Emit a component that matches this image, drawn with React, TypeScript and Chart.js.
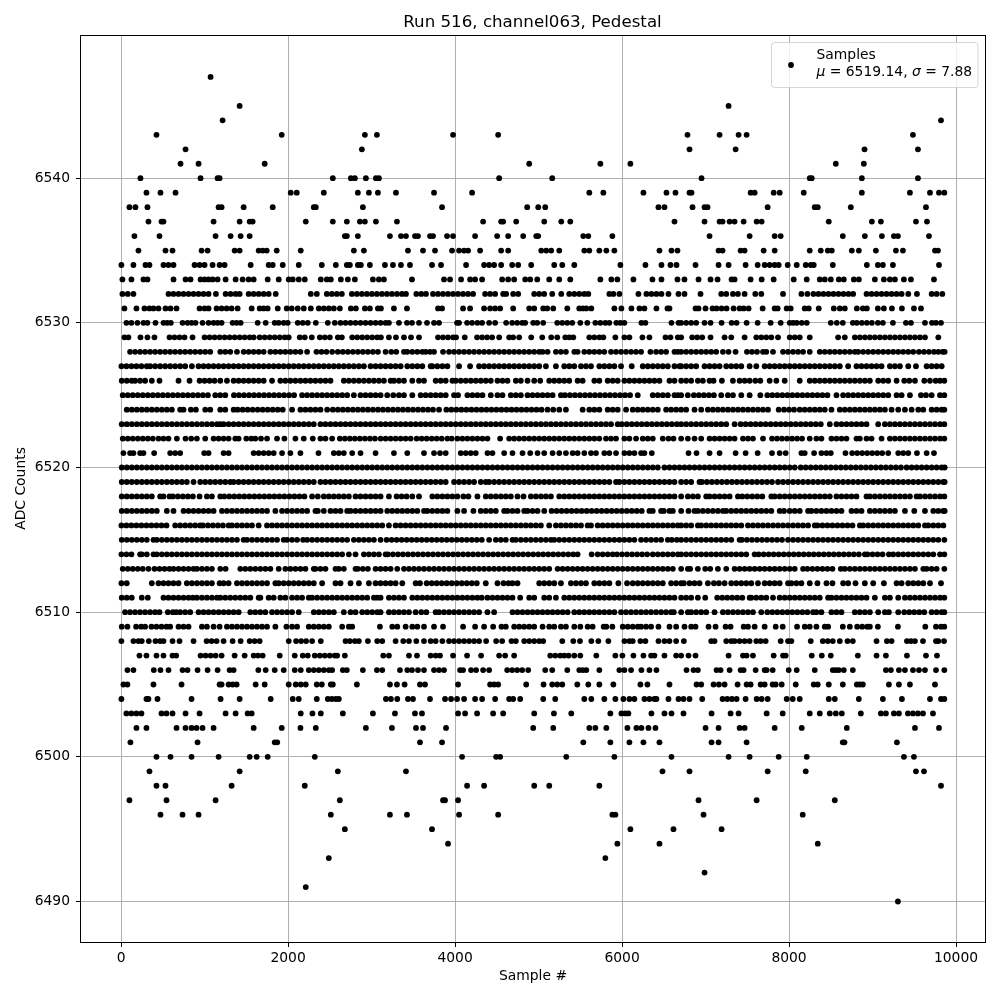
import React, { useEffect, useRef } from "react";
import { Chart, registerables } from "chart.js";

Chart.register(...registerables);

const xTicks = [0, 2000, 4000, 6000, 8000, 10000];
const yTicks = [6490, 6500, 6510, 6520, 6530, 6540];

// Sample numbers, one list per ADC level.
const s6547 = [1072];
const s6545 = [1420, 7276];
const s6544 = [1216, 9820];
const s6543 = [424, 1924, 2920, 3064, 3976, 4516, 6784, 7168, 7396, 7492, 9484];
const s6542 = [772, 2884, 6808, 7360, 8904, 9544];
const s6541 = [712, 928, 1720, 4888, 5740, 6100, 8560, 8896];
const s6540 = [232, 952, 1156, 1180, 2536, 2752, 2800, 2932, 3052, 3088, 4528, 5164, 6952, 8248, 8272, 8872, 9544];
const s6539 = [304, 472, 652, 2032, 2104, 2428, 2836, 2968, 3076, 3292, 3748, 4204, 5608, 5776, 6256, 6532, 6640, 6808, 6832, 7540, 7588, 7816, 7888, 8176, 8872, 9448, 9688, 9796, 9860];
const s6538 = [100, 172, 316, 1168, 1204, 1468, 1816, 2308, 2332, 2896, 3844, 4864, 4996, 5080, 6436, 6508, 6844, 6988, 7024, 7744, 8308, 8344, 8740, 9640];
const s6537 = [328, 484, 508, 1108, 1420, 1540, 1576, 2212, 2536, 2704, 2860, 2920, 3052, 3304, 4336, 4552, 4576, 4732, 5068, 5272, 5380, 6628, 6988, 7168, 7204, 7288, 7348, 7456, 7612, 7672, 8476, 8992, 9100, 9520, 9652];
const s6536 = [160, 460, 1132, 1312, 1432, 1540, 2680, 2704, 2836, 3220, 3352, 3412, 3520, 3556, 3700, 3736, 3904, 3976, 4240, 4504, 4636, 4816, 4972, 4996, 5536, 5596, 5884, 7048, 7528, 7828, 7900, 8644, 8908, 9112, 9256, 9304, 9676];
const s6535 = [208, 532, 616, 964, 1036, 1360, 1420, 1648, 1696, 1744, 1864, 2152, 2788, 2908, 3436, 3616, 3760, 3964, 4048, 4108, 4156, 4300, 4552, 4636, 5032, 5092, 5152, 5248, 5548, 5608, 5728, 5812, 5908, 6448, 6592, 6664, 7156, 7204, 7420, 7468, 7696, 7828, 8248, 8380, 8464, 8512, 8752, 8836, 9040, 9280, 9364, 9748, 9784];
const s6534 = [4, 148, 292, 340, 508, 568, 628, 880, 940, 1000, 1096, 1180, 1240, 1552, 1768, 1816, 1936, 2128, 2404, 2572, 2704, 2740, 2836, 2872, 2980, 3160, 3256, 3352, 3460, 3724, 3832, 4132, 4348, 4408, 4468, 4552, 4684, 4756, 4912, 5188, 5284, 5428, 5980, 6280, 6472, 6580, 6652, 6880, 7156, 7276, 7480, 7624, 7708, 7768, 7828, 7876, 7984, 8092, 8200, 8260, 8296, 8524, 8932, 9064, 9124, 9244, 9796];
const s6533 = [16, 124, 268, 316, 628, 772, 832, 952, 1000, 1048, 1096, 1156, 1252, 1372, 1456, 1528, 1588, 1756, 1888, 2008, 2056, 2128, 2200, 2392, 2464, 2512, 2632, 2716, 2800, 3016, 3088, 3148, 3484, 3868, 3940, 4072, 4180, 4240, 4324, 4564, 4636, 4708, 4840, 4900, 4984, 5128, 5248, 5380, 5740, 5872, 5944, 6136, 6364, 6472, 6664, 6748, 6916, 7060, 7144, 7312, 7348, 7540, 7672, 7816, 8056, 8212, 8368, 8428, 8500, 8596, 8656, 8776, 8836, 9028, 9136, 9208, 9268, 9376, 9460, 9736];
const s6532 = [16, 80, 148, 568, 628, 688, 748, 808, 868, 928, 988, 1048, 1136, 1252, 1312, 1372, 1420, 1528, 1588, 1648, 1708, 1768, 1852, 2272, 2344, 2464, 2524, 2584, 2644, 2764, 2824, 2884, 2944, 3004, 3064, 3124, 3184, 3244, 3304, 3364, 3412, 3536, 3596, 3652, 3736, 3796, 3856, 3916, 3976, 4036, 4096, 4156, 4216, 4360, 4420, 4480, 4576, 4612, 4696, 4756, 4948, 5008, 5068, 5164, 5272, 5368, 5428, 5488, 5548, 5596, 5848, 5896, 5968, 6196, 6292, 6352, 6412, 6472, 6556, 6676, 6748, 6940, 7188, 7248, 7328, 7388, 7468, 7596, 7668, 7928, 8148, 8220, 8292, 8352, 8412, 8472, 8532, 8592, 8652, 8712, 8768, 8928, 8988, 9048, 9108, 9168, 9228, 9288, 9348, 9428, 9532, 9708, 9768, 9836];
const s6531 = [40, 184, 280, 340, 388, 448, 532, 592, 664, 940, 1000, 1048, 1144, 1204, 1264, 1324, 1396, 1564, 1660, 1708, 1756, 1876, 1984, 2044, 2116, 2188, 2272, 2368, 2428, 2488, 2548, 2620, 2752, 2812, 2920, 2980, 3076, 3112, 3268, 3424, 3796, 3844, 4096, 4180, 4348, 4420, 4480, 4540, 4696, 4888, 4948, 5056, 5104, 5176, 5344, 5488, 5530, 5572, 5632, 5908, 5992, 6112, 6208, 6268, 6412, 6544, 6568, 6880, 6916, 7000, 7084, 7132, 7192, 7252, 7336, 7408, 7456, 7516, 7684, 7828, 7864, 7972, 8020, 8188, 8236, 8356, 8536, 8608, 8668, 8812, 8884, 8932, 9064, 9136, 9232, 9352, 9496, 9580];
const s6530 = [64, 124, 196, 268, 316, 412, 508, 552, 596, 736, 796, 844, 892, 976, 1048, 1108, 1156, 1204, 1336, 1384, 1432, 1636, 1732, 1840, 1888, 1948, 1996, 2116, 2176, 2236, 2332, 2476, 2560, 2628, 2688, 2748, 2808, 2868, 2928, 2988, 3048, 3108, 3168, 3208, 3328, 3424, 3484, 3568, 3664, 3748, 3808, 4024, 4048, 4144, 4204, 4268, 4324, 4408, 4480, 4612, 4684, 4744, 4804, 4840, 4936, 4984, 5056, 5224, 5284, 5344, 5404, 5500, 5584, 5680, 5740, 5800, 5848, 5932, 5980, 6028, 6232, 6280, 6592, 6676, 6708, 6768, 6828, 6888, 6988, 7060, 7192, 7312, 7372, 7492, 7624, 7780, 7900, 8008, 8050, 8092, 8152, 8212, 8500, 8572, 8644, 8764, 8812, 8872, 8932, 8992, 9064, 9124, 9244, 9400, 9460, 9628, 9712, 9760, 9820];
const s6529 = [40, 88, 232, 316, 400, 580, 640, 700, 760, 856, 1000, 1060, 1120, 1180, 1240, 1300, 1360, 1420, 1480, 1540, 1588, 1660, 1720, 1780, 1840, 1900, 1960, 2008, 2140, 2200, 2284, 2380, 2440, 2500, 2596, 2644, 2768, 2828, 2888, 2948, 3008, 3068, 3112, 3208, 3292, 3388, 3472, 3568, 3796, 3856, 3916, 3976, 4012, 4116, 4264, 4324, 4384, 4444, 4528, 4648, 4696, 4768, 4912, 5044, 5152, 5224, 5320, 5368, 5416, 5608, 5668, 5728, 5776, 5920, 6028, 6088, 6244, 6328, 6520, 6580, 6668, 6708, 6840, 6900, 6960, 7060, 7228, 7308, 7468, 7608, 7668, 7728, 7788, 7868, 8008, 8068, 8128, 8248, 8588, 8668, 8788, 8848, 8908, 8968, 9028, 9088, 9148, 9208, 9268, 9328, 9388, 9448, 9508, 9568, 9628, 9788];
const s6528 = [108, 168, 228, 288, 348, 408, 468, 528, 588, 648, 708, 768, 828, 888, 948, 1008, 1068, 1188, 1248, 1308, 1388, 1468, 1528, 1588, 1648, 1708, 1788, 1848, 1908, 1968, 2028, 2088, 2148, 2228, 2340, 2400, 2460, 2528, 2596, 2656, 2716, 2776, 2836, 2896, 2956, 3016, 3076, 3168, 3236, 3296, 3388, 3428, 3488, 3548, 3608, 3648, 3700, 3748, 3856, 3928, 3988, 4048, 4108, 4168, 4228, 4288, 4348, 4408, 4468, 4528, 4588, 4648, 4708, 4768, 4828, 4888, 4948, 5008, 5048, 5108, 5208, 5268, 5328, 5428, 5468, 5548, 5608, 5668, 5728, 5788, 5868, 5928, 5988, 6048, 6108, 6168, 6228, 6340, 6408, 6468, 6528, 6628, 6668, 6708, 6768, 6828, 6888, 6948, 7008, 7068, 7128, 7208, 7276, 7360, 7496, 7556, 7616, 7688, 7728, 7808, 7928, 7988, 8048, 8108, 8168, 8248, 8368, 8428, 8488, 8548, 8608, 8668, 8728, 8788, 8828, 8888, 8948, 9008, 9068, 9128, 9188, 9248, 9308, 9368, 9428, 9488, 9556, 9616, 9676, 9736, 9788, 9840, 9864];
const s6527 = [4, 64, 124, 184, 244, 308, 348, 408, 468, 528, 588, 648, 708, 768, 848, 928, 988, 1048, 1108, 1168, 1228, 1288, 1348, 1408, 1468, 1528, 1588, 1648, 1708, 1768, 1828, 1888, 1948, 2008, 2068, 2128, 2188, 2248, 2308, 2368, 2428, 2488, 2548, 2608, 2668, 2728, 2788, 2848, 2908, 2988, 3048, 3108, 3168, 3228, 3288, 3348, 3428, 3488, 3548, 3608, 3708, 3728, 3788, 3848, 3908, 4048, 4180, 4288, 4348, 4408, 4468, 4528, 4588, 4648, 4708, 4768, 4828, 4888, 4948, 5008, 5088, 5208, 5308, 5368, 5428, 5508, 5568, 5628, 5728, 5788, 5848, 5908, 5988, 6116, 6248, 6308, 6368, 6428, 6488, 6548, 6628, 6688, 6708, 6768, 6828, 6888, 6988, 7048, 7108, 7168, 7248, 7308, 7368, 7428, 7528, 7608, 7708, 7768, 7828, 7888, 7948, 8008, 8068, 8128, 8188, 8248, 8308, 8368, 8428, 8488, 8548, 8608, 8708, 8808, 8868, 8928, 8988, 9048, 9108, 9208, 9268, 9328, 9428, 9520, 9648, 9708, 9768, 9828];
const s6526 = [8, 68, 128, 168, 228, 288, 368, 460, 688, 820, 940, 1000, 1060, 1120, 1188, 1268, 1348, 1408, 1468, 1528, 1588, 1648, 1708, 1808, 1908, 1968, 2028, 2088, 2148, 2208, 2268, 2328, 2388, 2448, 2508, 2668, 2728, 2788, 2848, 2908, 2968, 3028, 3088, 3148, 3228, 3268, 3328, 3388, 3488, 3568, 3628, 3768, 3828, 3888, 3968, 4008, 4068, 4128, 4188, 4248, 4308, 4368, 4428, 4508, 4568, 4628, 4728, 4788, 4868, 4948, 5020, 5128, 5188, 5248, 5308, 5368, 5468, 5528, 5668, 5728, 5828, 5888, 5948, 6028, 6088, 6148, 6208, 6268, 6328, 6388, 6448, 6568, 6628, 6708, 6768, 6828, 6908, 6968, 7048, 7096, 7196, 7328, 7408, 7468, 7528, 7596, 7656, 7768, 7848, 7948, 8128, 8248, 8308, 8368, 8428, 8488, 8548, 8608, 8668, 8728, 8788, 8848, 8908, 8968, 9068, 9128, 9188, 9288, 9380, 9440, 9508, 9620, 9688, 9756, 9808, 9860];
const s6525 = [20, 80, 140, 200, 260, 320, 380, 440, 500, 560, 620, 680, 740, 800, 860, 920, 980, 1040, 1128, 1188, 1248, 1352, 1412, 1472, 1532, 1592, 1652, 1712, 1772, 1832, 1892, 1952, 2012, 2072, 2168, 2228, 2288, 2348, 2408, 2468, 2528, 2588, 2648, 2708, 2788, 2868, 2928, 2988, 3048, 3108, 3188, 3260, 3328, 3388, 3488, 3588, 3648, 3708, 3768, 3828, 3888, 3988, 4036, 4148, 4208, 4268, 4328, 4428, 4508, 4568, 4668, 4728, 4788, 4868, 4928, 4988, 5048, 5108, 5168, 5268, 5316, 5376, 5436, 5496, 5556, 5616, 5676, 5736, 5796, 5856, 5916, 5976, 6036, 6096, 6188, 6368, 6428, 6488, 6548, 6628, 6668, 6708, 6788, 6860, 6920, 6980, 7040, 7100, 7188, 7268, 7328, 7428, 7528, 7656, 7740, 7800, 7860, 7920, 7980, 8040, 8100, 8160, 8220, 8280, 8340, 8400, 8460, 8568, 8648, 8708, 8768, 8828, 8888, 8948, 9008, 9068, 9128, 9188, 9288, 9348, 9448, 9580, 9640, 9708, 9808, 9860];
const s6524 = [68, 128, 188, 248, 308, 368, 428, 488, 548, 608, 708, 748, 836, 896, 1008, 1068, 1188, 1248, 1348, 1396, 1456, 1516, 1576, 1636, 1696, 1756, 1816, 1876, 1936, 2048, 2148, 2208, 2268, 2328, 2388, 2468, 2536, 2596, 2656, 2716, 2776, 2836, 2896, 2956, 3016, 3076, 3136, 3196, 3256, 3316, 3376, 3436, 3496, 3556, 3616, 3676, 3736, 3808, 3896, 3956, 4016, 4076, 4136, 4196, 4256, 4316, 4376, 4436, 4496, 4556, 4616, 4676, 4736, 4796, 4856, 4916, 4976, 5036, 5108, 5176, 5248, 5328, 5528, 5608, 5668, 5728, 5828, 5888, 5948, 6048, 6128, 6188, 6248, 6308, 6368, 6428, 6528, 6588, 6648, 6708, 6768, 6868, 6948, 7028, 7088, 7148, 7208, 7268, 7328, 7388, 7448, 7508, 7568, 7628, 7688, 7748, 7876, 7940, 8000, 8060, 8128, 8188, 8248, 8308, 8368, 8428, 8508, 8608, 8668, 8728, 8788, 8848, 8908, 8968, 9028, 9088, 9148, 9228, 9308, 9388, 9468, 9548, 9608, 9708, 9768, 9828, 9860];
const s6523 = [8, 68, 128, 188, 248, 308, 368, 428, 488, 548, 608, 668, 728, 788, 848, 908, 968, 1028, 1088, 1148, 1188, 1228, 1288, 1348, 1408, 1468, 1528, 1588, 1648, 1708, 1768, 1828, 1888, 1948, 2008, 2068, 2128, 2188, 2248, 2308, 2388, 2448, 2508, 2568, 2628, 2688, 2748, 2808, 2868, 2928, 2988, 3048, 3108, 3168, 3228, 3288, 3348, 3408, 3468, 3528, 3588, 3648, 3708, 3768, 3828, 3888, 3948, 4008, 4068, 4128, 4188, 4248, 4308, 4368, 4428, 4488, 4548, 4608, 4668, 4728, 4788, 4848, 4908, 4968, 5028, 5088, 5148, 5208, 5268, 5328, 5388, 5448, 5508, 5568, 5628, 5688, 5748, 5808, 5868, 5948, 5996, 6056, 6116, 6176, 6236, 6296, 6356, 6416, 6476, 6536, 6596, 6656, 6708, 6768, 6828, 6888, 6948, 7008, 7068, 7128, 7188, 7248, 7348, 7420, 7480, 7540, 7600, 7660, 7720, 7780, 7840, 7900, 7960, 8020, 8080, 8140, 8200, 8260, 8320, 8380, 8488, 8568, 8628, 8688, 8748, 8808, 8868, 8928, 9068, 9148, 9208, 9268, 9328, 9388, 9448, 9508, 9568, 9628, 9688, 9748, 9808, 9860];
const s6522 = [20, 80, 140, 200, 260, 320, 380, 448, 508, 568, 668, 772, 840, 908, 1008, 1108, 1168, 1228, 1288, 1368, 1408, 1500, 1560, 1608, 1676, 1748, 1868, 1956, 2088, 2188, 2296, 2388, 2448, 2528, 2620, 2680, 2740, 2800, 2860, 2920, 2980, 3040, 3108, 3168, 3228, 3288, 3348, 3408, 3468, 3540, 3600, 3660, 3720, 3780, 3840, 3908, 3960, 4028, 4088, 4148, 4208, 4268, 4328, 4388, 4540, 4648, 4708, 4768, 4828, 4888, 4948, 5008, 5068, 5128, 5188, 5248, 5308, 5368, 5428, 5488, 5548, 5608, 5668, 5728, 5808, 5868, 5928, 6028, 6088, 6168, 6248, 6308, 6368, 6488, 6556, 6616, 6708, 6788, 6868, 6948, 7048, 7108, 7168, 7228, 7288, 7348, 7448, 7508, 7568, 7688, 7796, 7856, 7916, 7976, 8036, 8096, 8156, 8248, 8328, 8388, 8508, 8568, 8628, 8688, 8808, 8848, 8928, 8988, 9108, 9208, 9268, 9328, 9388, 9448, 9508, 9568, 9628, 9688, 9748, 9808, 9860];
const s6521 = [28, 108, 148, 228, 268, 396, 588, 648, 708, 996, 1048, 1228, 1288, 1588, 1648, 1708, 1768, 1828, 1928, 2028, 2148, 2364, 2548, 2608, 2668, 2768, 2868, 3048, 3268, 3428, 3628, 3748, 3820, 3888, 4068, 4128, 4188, 4248, 4388, 4448, 4588, 4688, 4808, 4900, 4988, 5068, 5168, 5248, 5328, 5408, 5468, 5548, 5628, 5688, 5788, 5848, 5928, 6028, 6088, 6148, 6228, 6268, 6356, 6796, 6892, 7048, 7168, 7360, 7480, 7624, 7796, 7888, 7960, 8148, 8188, 8300, 8388, 8448, 8500, 8676, 8756, 8816, 8876, 8936, 8996, 9056, 9116, 9188, 9308, 9368, 9428, 9532, 9648, 9736];
const s6520 = [8, 68, 128, 188, 248, 308, 368, 428, 488, 548, 608, 668, 728, 788, 848, 908, 968, 1028, 1088, 1148, 1208, 1268, 1328, 1388, 1448, 1508, 1568, 1628, 1688, 1748, 1808, 1868, 1928, 1988, 2048, 2108, 2168, 2228, 2288, 2348, 2408, 2468, 2528, 2588, 2648, 2708, 2768, 2828, 2888, 2948, 3008, 3068, 3128, 3188, 3248, 3308, 3368, 3428, 3488, 3548, 3608, 3668, 3728, 3788, 3848, 3908, 3968, 4028, 4088, 4148, 4208, 4268, 4328, 4388, 4448, 4508, 4568, 4628, 4688, 4748, 4808, 4868, 4928, 4988, 5048, 5108, 5168, 5228, 5288, 5348, 5408, 5468, 5528, 5588, 5648, 5708, 5768, 5828, 5888, 5948, 6008, 6068, 6128, 6188, 6248, 6308, 6368, 6428, 6508, 6568, 6628, 6688, 6748, 6808, 6868, 6928, 6988, 7048, 7108, 7168, 7228, 7288, 7348, 7408, 7468, 7528, 7588, 7648, 7708, 7768, 7828, 7888, 7948, 8008, 8068, 8140, 8200, 8260, 8320, 8380, 8440, 8500, 8560, 8620, 8680, 8740, 8800, 8860, 8920, 8980, 9040, 9100, 9160, 9220, 9280, 9340, 9408, 9468, 9528, 9588, 9648, 9708, 9768, 9828, 9864];
const s6519 = [8, 68, 128, 188, 248, 308, 368, 428, 488, 548, 608, 668, 728, 788, 868, 948, 1008, 1068, 1128, 1188, 1248, 1308, 1348, 1408, 1468, 1528, 1588, 1648, 1708, 1768, 1828, 1888, 1948, 2008, 2068, 2128, 2188, 2248, 2308, 2388, 2448, 2508, 2568, 2628, 2688, 2748, 2808, 2868, 2928, 2988, 3048, 3108, 3168, 3228, 3288, 3348, 3408, 3468, 3528, 3588, 3648, 3708, 3768, 3828, 3888, 3988, 4048, 4108, 4168, 4228, 4308, 4368, 4408, 4468, 4528, 4588, 4648, 4708, 4768, 4828, 4888, 4948, 5008, 5068, 5128, 5188, 5248, 5308, 5368, 5428, 5488, 5548, 5608, 5668, 5728, 5788, 5848, 5928, 5968, 6028, 6088, 6148, 6208, 6268, 6328, 6388, 6448, 6508, 6568, 6628, 6708, 6768, 6828, 6928, 6956, 7016, 7076, 7136, 7196, 7256, 7316, 7376, 7436, 7496, 7556, 7616, 7676, 7736, 7796, 7868, 7928, 7988, 8048, 8108, 8168, 8228, 8288, 8348, 8408, 8468, 8528, 8588, 8648, 8708, 8768, 8828, 8888, 8948, 9008, 9068, 9128, 9188, 9248, 9308, 9368, 9428, 9488, 9548, 9608, 9668, 9728, 9788, 9848, 9864];
const s6518 = [8, 68, 128, 188, 248, 308, 368, 468, 508, 580, 620, 680, 740, 800, 860, 940, 1028, 1088, 1188, 1236, 1296, 1356, 1416, 1476, 1536, 1596, 1656, 1716, 1776, 1836, 1896, 1956, 2016, 2076, 2136, 2196, 2288, 2356, 2428, 2488, 2548, 2608, 2668, 2728, 2808, 2868, 2928, 2988, 3048, 3108, 3208, 3300, 3360, 3420, 3488, 3568, 3728, 3788, 3848, 3908, 3968, 4028, 4100, 4160, 4268, 4368, 4428, 4488, 4548, 4608, 4668, 4748, 4820, 4908, 4968, 5028, 5088, 5148, 5248, 5308, 5368, 5428, 5488, 5548, 5608, 5668, 5728, 5788, 5848, 5908, 5968, 6028, 6088, 6148, 6208, 6268, 6328, 6388, 6448, 6508, 6568, 6628, 6708, 6788, 6848, 6908, 7008, 7048, 7108, 7168, 7228, 7288, 7388, 7440, 7500, 7560, 7620, 7680, 7788, 7828, 7888, 7948, 8008, 8068, 8128, 8188, 8248, 8308, 8368, 8428, 8488, 8568, 8628, 8688, 8748, 8808, 8928, 8968, 9028, 9088, 9148, 9208, 9268, 9328, 9388, 9448, 9528, 9568, 9628, 9688, 9748, 9808, 9860];
const s6517 = [8, 68, 128, 188, 248, 308, 368, 428, 548, 628, 748, 808, 868, 928, 988, 1048, 1108, 1208, 1268, 1328, 1388, 1448, 1508, 1568, 1628, 1688, 1748, 1848, 1928, 1988, 2048, 2108, 2168, 2228, 2328, 2356, 2428, 2508, 2568, 2628, 2708, 2748, 2808, 2868, 2928, 2988, 3048, 3108, 3188, 3248, 3308, 3368, 3428, 3488, 3548, 3628, 3668, 3728, 3788, 3848, 3908, 4028, 4108, 4220, 4308, 4368, 4428, 4488, 4588, 4628, 4688, 4748, 4828, 4868, 4928, 4988, 5068, 5156, 5216, 5276, 5336, 5396, 5456, 5516, 5576, 5636, 5696, 5756, 5816, 5876, 5936, 5996, 6056, 6116, 6176, 6236, 6328, 6368, 6468, 6500, 6568, 6608, 6708, 6796, 6868, 6908, 6968, 7028, 7088, 7148, 7208, 7248, 7308, 7368, 7428, 7488, 7548, 7608, 7668, 7728, 7788, 7888, 7940, 8008, 8068, 8128, 8228, 8268, 8328, 8388, 8448, 8508, 8568, 8628, 8748, 8808, 8868, 8968, 9028, 9088, 9148, 9208, 9268, 9388, 9500, 9628, 9728, 9788, 9848, 9864];
const s6516 = [4, 64, 124, 184, 244, 304, 364, 424, 484, 544, 648, 708, 768, 828, 888, 948, 980, 1040, 1100, 1160, 1220, 1288, 1328, 1388, 1448, 1508, 1568, 1648, 1748, 1808, 1868, 1928, 1988, 2048, 2108, 2168, 2228, 2288, 2348, 2408, 2468, 2528, 2588, 2648, 2708, 2768, 2828, 2888, 2948, 3008, 3068, 3128, 3208, 3288, 3348, 3408, 3468, 3528, 3588, 3648, 3708, 3768, 3828, 3888, 3948, 4008, 4068, 4128, 4188, 4248, 4308, 4368, 4428, 4488, 4548, 4608, 4668, 4728, 4788, 4848, 4908, 4968, 5028, 5128, 5208, 5268, 5328, 5388, 5448, 5508, 5588, 5628, 5708, 5768, 5828, 5888, 5948, 6008, 6068, 6128, 6188, 6248, 6308, 6368, 6428, 6488, 6548, 6608, 6668, 6708, 6768, 6828, 6908, 6948, 7008, 7068, 7128, 7188, 7248, 7308, 7368, 7428, 7508, 7568, 7628, 7688, 7748, 7808, 7868, 7928, 7988, 8048, 8108, 8168, 8228, 8308, 8340, 8400, 8460, 8520, 8580, 8640, 8700, 8760, 8848, 8888, 8948, 9008, 9068, 9128, 9188, 9248, 9308, 9368, 9428, 9488, 9548, 9628, 9668, 9728, 9788, 9848];
const s6515 = [8, 68, 128, 188, 248, 308, 388, 428, 488, 548, 608, 668, 728, 788, 848, 908, 968, 1028, 1088, 1148, 1208, 1268, 1328, 1388, 1468, 1508, 1568, 1628, 1688, 1748, 1808, 1868, 1948, 1988, 2048, 2108, 2180, 2228, 2288, 2348, 2408, 2468, 2528, 2588, 2648, 2708, 2788, 2848, 2908, 2968, 3028, 3108, 3180, 3240, 3300, 3360, 3420, 3480, 3540, 3600, 3660, 3720, 3780, 3840, 3900, 3960, 4020, 4080, 4140, 4200, 4260, 4320, 4408, 4488, 4548, 4608, 4688, 4728, 4788, 4848, 4908, 4968, 5028, 5088, 5148, 5188, 5248, 5308, 5368, 5428, 5488, 5548, 5608, 5668, 5728, 5788, 5848, 5908, 5968, 6028, 6088, 6148, 6228, 6288, 6348, 6408, 6468, 6548, 6596, 6656, 6708, 6768, 6828, 6888, 6948, 7008, 7068, 7128, 7188, 7248, 7308, 7408, 7436, 7496, 7556, 7616, 7676, 7736, 7796, 7856, 7916, 7988, 8048, 8108, 8168, 8228, 8288, 8348, 8408, 8468, 8528, 8588, 8648, 8708, 8768, 8828, 8888, 8948, 9008, 9068, 9128, 9188, 9248, 9308, 9368, 9428, 9488, 9548, 9608, 9668, 9728, 9788, 9860];
const s6514 = [4, 64, 124, 228, 248, 308, 388, 428, 488, 548, 608, 668, 728, 788, 848, 908, 968, 1028, 1088, 1148, 1208, 1268, 1328, 1388, 1448, 1508, 1568, 1628, 1688, 1748, 1808, 1868, 1928, 1988, 2048, 2108, 2168, 2228, 2288, 2348, 2408, 2468, 2528, 2588, 2648, 2728, 2808, 2908, 2968, 3028, 3088, 3168, 3196, 3256, 3316, 3376, 3436, 3496, 3556, 3616, 3676, 3736, 3796, 3856, 3916, 3976, 4036, 4096, 4156, 4216, 4276, 4336, 4396, 4456, 4516, 4576, 4636, 4696, 4756, 4816, 4876, 4936, 4996, 5056, 5116, 5176, 5236, 5296, 5356, 5416, 5468, 5636, 5708, 5768, 5828, 5888, 5940, 6000, 6060, 6120, 6180, 6240, 6300, 6368, 6428, 6488, 6548, 6608, 6668, 6708, 6768, 6828, 6888, 6948, 7008, 7068, 7128, 7188, 7248, 7308, 7368, 7428, 7488, 7588, 7636, 7696, 7756, 7816, 7876, 7936, 7996, 8056, 8116, 8176, 8236, 8296, 8356, 8416, 8476, 8536, 8596, 8656, 8716, 8776, 8836, 8908, 8940, 9000, 9060, 9120, 9196, 9248, 9308, 9368, 9428, 9488, 9548, 9608, 9668, 9728, 9808, 9860];
const s6513 = [20, 80, 140, 200, 260, 328, 400, 460, 520, 580, 628, 688, 748, 808, 868, 908, 968, 1028, 1088, 1188, 1252, 1428, 1488, 1548, 1608, 1668, 1728, 1788, 1888, 1968, 2028, 2088, 2148, 2208, 2308, 2328, 2388, 2448, 2568, 2608, 2668, 2808, 2836, 2896, 2956, 3048, 3108, 3168, 3228, 3308, 3388, 3448, 3508, 3568, 3628, 3688, 3748, 3808, 3868, 3928, 3988, 4048, 4108, 4168, 4228, 4288, 4348, 4408, 4468, 4528, 4588, 4648, 4708, 4768, 4828, 4888, 4948, 5008, 5068, 5128, 5228, 5288, 5348, 5408, 5468, 5528, 5588, 5648, 5708, 5768, 5828, 5888, 5948, 6008, 6068, 6128, 6188, 6248, 6308, 6368, 6428, 6488, 6548, 6608, 6708, 6788, 6816, 6908, 6996, 7056, 7148, 7248, 7348, 7408, 7468, 7528, 7588, 7648, 7708, 7768, 7828, 7888, 7948, 8008, 8068, 8168, 8220, 8280, 8340, 8400, 8460, 8520, 8620, 8668, 8728, 8788, 8848, 8908, 8968, 9028, 9088, 9148, 9208, 9268, 9328, 9388, 9448, 9508, 9608, 9648, 9708, 9768, 9860];
const s6512 = [4, 68, 368, 448, 508, 568, 628, 688, 788, 848, 908, 968, 1028, 1088, 1180, 1228, 1288, 1388, 1448, 1508, 1568, 1628, 1688, 1748, 1848, 1888, 1948, 2008, 2068, 2128, 2188, 2248, 2308, 2408, 2568, 2628, 2748, 2848, 2968, 3048, 3108, 3168, 3228, 3288, 3368, 3528, 3580, 3660, 3720, 3780, 3840, 3900, 3960, 4020, 4080, 4140, 4200, 4260, 4368, 4508, 4580, 4640, 4688, 4748, 5008, 5068, 5128, 5188, 5268, 5388, 5448, 5508, 5568, 5668, 5728, 5788, 5848, 5956, 6060, 6128, 6188, 6248, 6308, 6368, 6428, 6488, 6588, 6648, 6708, 6740, 6808, 6868, 6928, 7028, 7100, 7160, 7228, 7308, 7368, 7428, 7488, 7548, 7628, 7708, 7768, 7828, 7888, 7988, 8028, 8088, 8148, 8248, 8340, 8448, 8520, 8648, 8708, 8796, 8908, 9008, 9136, 9288, 9348, 9428, 9488, 9548, 9608, 9688, 9820];
const s6511 = [8, 68, 128, 248, 320, 508, 568, 628, 688, 748, 808, 860, 908, 968, 1028, 1088, 1148, 1188, 1248, 1308, 1368, 1428, 1488, 1548, 1648, 1668, 1768, 1828, 1908, 1968, 2048, 2108, 2168, 2248, 2288, 2348, 2408, 2468, 2528, 2588, 2648, 2708, 2768, 2828, 2888, 2948, 3028, 3068, 3108, 3208, 3268, 3328, 3388, 3488, 3548, 3608, 3668, 3728, 3788, 3848, 3908, 3968, 4028, 4088, 4148, 4208, 4268, 4320, 4388, 4448, 4508, 4568, 4628, 4688, 4780, 4888, 4948, 5068, 5128, 5208, 5308, 5368, 5428, 5488, 5548, 5608, 5668, 5728, 5788, 5848, 5908, 5968, 6028, 6088, 6148, 6208, 6268, 6328, 6388, 6448, 6508, 6568, 6628, 6708, 6768, 6828, 6908, 6996, 7140, 7200, 7260, 7320, 7380, 7440, 7528, 7548, 7608, 7668, 7728, 7808, 7888, 7948, 8008, 8068, 8128, 8188, 8248, 8308, 8368, 8468, 8508, 8568, 8628, 8688, 8748, 8808, 8868, 8928, 9028, 9148, 9208, 9308, 9388, 9448, 9508, 9568, 9628, 9688, 9748, 9808, 9860];
const s6510 = [48, 108, 168, 228, 288, 348, 408, 460, 560, 620, 660, 708, 768, 828, 928, 988, 1048, 1108, 1168, 1228, 1288, 1348, 1408, 1548, 1608, 1668, 1728, 1808, 1868, 1928, 1988, 2048, 2128, 2308, 2368, 2428, 2488, 2548, 2668, 2748, 2808, 2888, 2948, 3008, 3068, 3108, 3208, 3268, 3328, 3388, 3448, 3528, 3596, 3656, 3768, 3808, 3868, 3928, 3988, 4048, 4108, 4168, 4228, 4288, 4388, 4468, 4688, 4748, 4808, 4868, 4928, 4988, 5048, 5108, 5168, 5228, 5288, 5348, 5428, 5488, 5548, 5608, 5668, 5728, 5788, 5848, 5908, 5988, 6048, 6108, 6168, 6228, 6288, 6348, 6408, 6468, 6528, 6588, 6620, 6708, 6788, 6828, 6888, 6948, 7008, 7108, 7208, 7268, 7328, 7388, 7448, 7508, 7568, 7668, 7740, 7800, 7860, 7920, 7980, 8040, 8100, 8160, 8220, 8288, 8328, 8388, 8508, 8568, 8628, 8788, 8848, 8908, 8968, 9068, 9148, 9196, 9308, 9380, 9440, 9500, 9560, 9620, 9708, 9768, 9828, 9860];
const s6509 = [8, 76, 180, 240, 288, 364, 424, 484, 544, 588, 688, 748, 808, 968, 1028, 1108, 1180, 1268, 1328, 1388, 1448, 1508, 1568, 1628, 1688, 1748, 1848, 1980, 2048, 2108, 2248, 2308, 2368, 2428, 2488, 2648, 2728, 2768, 3100, 3248, 3308, 3408, 3488, 3548, 3628, 3748, 3856, 4096, 4240, 4348, 4456, 4556, 4608, 4708, 4768, 4828, 4888, 4948, 5048, 5128, 5188, 5268, 5328, 5428, 5500, 5588, 5648, 5780, 5812, 5884, 6008, 6068, 6128, 6188, 6228, 6288, 6348, 6436, 6568, 6648, 6748, 6828, 6880, 7036, 7120, 7240, 7300, 7456, 7508, 7588, 7708, 7840, 7924, 8096, 8188, 8248, 8328, 8428, 8468, 8644, 8728, 8816, 8876, 8936, 8968, 9064, 9304, 9632, 9760, 9820, 9860];
const s6508 = [4, 148, 208, 248, 332, 412, 468, 508, 616, 700, 868, 1024, 1084, 1144, 1228, 1336, 1432, 1540, 1600, 1660, 2008, 2096, 2156, 2216, 2288, 2392, 2688, 2740, 2800, 2848, 2956, 3068, 3128, 3288, 3380, 3448, 3536, 3628, 3708, 3768, 3848, 3928, 3988, 4048, 4108, 4168, 4228, 4288, 4372, 4492, 4564, 4676, 4728, 4828, 4888, 4948, 5008, 5056, 5284, 5416, 5496, 5632, 5716, 5836, 6028, 6088, 6128, 6220, 6280, 6436, 6508, 6568, 6648, 6740, 7068, 7108, 7248, 7308, 7348, 7408, 7468, 7528, 7608, 7660, 7720, 7900, 7988, 8028, 8260, 8404, 8464, 8524, 8608, 8700, 8764, 9048, 9172, 9228, 9412, 9460, 9508, 9604, 9760, 9788, 9856];
const s6507 = [220, 304, 424, 508, 616, 660, 952, 1012, 1072, 1132, 1204, 1360, 1480, 1588, 1640, 1696, 1900, 2080, 2176, 2236, 2320, 2380, 2440, 2500, 2560, 2588, 2680, 3140, 3208, 3448, 3544, 3708, 3768, 3820, 3976, 4144, 4312, 4528, 4600, 4708, 5140, 5200, 5260, 5308, 5360, 5428, 5500, 5692, 5920, 6004, 6136, 6256, 6348, 6388, 6508, 6648, 6708, 6796, 6880, 7276, 7448, 7492, 7568, 7816, 7928, 7960, 8272, 8392, 8500, 8824, 9048, 9160, 9412, 9640, 9772];
const s6506 = [76, 148, 392, 472, 568, 736, 796, 916, 1036, 1156, 1300, 1348, 1644, 1732, 1840, 1948, 2080, 2152, 2248, 2308, 2368, 2428, 2488, 2528, 2656, 2704, 2896, 3064, 3128, 3340, 3428, 3484, 3556, 3628, 3748, 3808, 3868, 4060, 4096, 4192, 4252, 4336, 4408, 4624, 4684, 4744, 4804, 4876, 5080, 5164, 5344, 5488, 5530, 5572, 5728, 5968, 6028, 6108, 6232, 6328, 6412, 6772, 6856, 6908, 7132, 7180, 7288, 7420, 7456, 7600, 7708, 7732, 7804, 7996, 8092, 8308, 8524, 8560, 8596, 8656, 8764, 9160, 9220, 9316, 9388, 9484, 9556, 9628, 9760, 9860];
const s6505 = [28, 76, 388, 724, 1180, 1204, 1288, 1336, 1384, 1612, 1720, 2008, 2092, 2152, 2212, 2344, 2404, 2512, 2536, 2824, 3220, 3304, 3396, 3580, 3640, 4036, 4420, 4468, 4516, 4852, 5060, 5164, 5224, 5284, 5464, 5596, 5728, 5896, 6220, 6304, 6568, 6892, 6948, 7096, 7160, 7228, 7384, 7492, 7540, 7660, 7708, 7804, 7840, 7912, 8080, 8296, 8344, 8476, 8644, 8812, 8848, 8884, 9196, 9316, 9448, 9748];
const s6504 = [4, 304, 328, 436, 844, 1192, 1420, 1792, 2056, 2128, 2344, 2476, 2524, 2572, 2608, 3172, 3232, 3308, 3436, 3496, 3700, 3880, 3952, 4024, 4108, 4240, 4324, 4480, 4648, 4696, 4780, 5056, 5200, 5548, 5632, 5788, 5920, 6016, 6088, 6148, 6268, 6328, 6388, 6412, 6556, 6676, 6736, 6808, 6960, 7204, 7260, 7316, 7372, 7480, 7612, 7672, 7744, 7972, 8044, 8128, 8476, 8548, 8836, 9124, 9352, 9688, 9820, 9860];
const s6503 = [64, 124, 184, 244, 484, 544, 616, 772, 940, 1252, 1372, 1516, 1564, 2152, 2292, 2392, 2656, 3016, 3280, 3520, 3604, 4036, 4120, 4264, 4456, 4576, 4948, 5184, 5392, 5860, 5992, 6036, 6076, 6352, 6508, 6592, 6736, 7072, 7300, 7396, 7732, 7924, 8248, 8368, 8488, 8560, 8632, 8860, 9100, 9160, 9256, 9316, 9424, 9484, 9544, 9604, 9724];
const s6502 = [184, 304, 664, 772, 844, 904, 976, 1108, 1588, 1924, 2148, 2332, 2932, 3244, 3532, 3616, 3892, 4936, 5176, 5608, 5680, 5812, 6064, 6172, 6232, 6316, 6400, 7000, 7156, 7408, 7468, 7828, 8152, 8692, 9508, 9796];
const s6501 = [112, 916, 1840, 1870, 3580, 3844, 5536, 5860, 6088, 6256, 6448, 7072, 7156, 7492, 8644, 8664, 9292];
const s6500 = [424, 592, 844, 1168, 1540, 1624, 1756, 2320, 4084, 4492, 4540, 5332, 5908, 6592, 7276, 7528, 7876, 8212, 9376, 9496];
const s6499 = [340, 1420, 2596, 3412, 6484, 6808, 7744, 8200, 9520, 9616];
const s6498 = [424, 532, 1324, 2200, 4144, 4348, 4948, 5128, 5728, 9820];
const s6497 = [100, 544, 1132, 2620, 3856, 3880, 4036, 6916, 7612, 8548];
const s6496 = [472, 736, 928, 2512, 3220, 3424, 4048, 4516, 5884, 5920, 6976, 8164];
const s6495 = [2680, 3724, 6100, 6616, 7192];
const s6494 = [3916, 5944, 6448, 8344];
const s6493 = [2488, 5800];
const s6492 = [6988];
const s6491 = [2212];
const s6490 = [9304];

const levels: [number, number[]][] = [
  [6547, s6547], [6545, s6545], [6544, s6544], [6543, s6543], [6542, s6542], [6541, s6541], [6540, s6540],
  [6539, s6539], [6538, s6538], [6537, s6537], [6536, s6536], [6535, s6535], [6534, s6534], [6533, s6533],
  [6532, s6532], [6531, s6531], [6530, s6530], [6529, s6529], [6528, s6528], [6527, s6527], [6526, s6526],
  [6525, s6525], [6524, s6524], [6523, s6523], [6522, s6522], [6521, s6521], [6520, s6520], [6519, s6519],
  [6518, s6518], [6517, s6517], [6516, s6516], [6515, s6515], [6514, s6514], [6513, s6513], [6512, s6512],
  [6511, s6511], [6510, s6510], [6509, s6509], [6508, s6508], [6507, s6507], [6506, s6506], [6505, s6505],
  [6504, s6504], [6503, s6503], [6502, s6502], [6501, s6501], [6500, s6500], [6499, s6499], [6498, s6498],
  [6497, s6497], [6496, s6496], [6495, s6495], [6494, s6494], [6493, s6493], [6492, s6492], [6491, s6491],
  [6490, s6490],
];

const points = levels.flatMap(([y, xs]) => xs.map((x) => ({ x, y })));

const FONT = "'DejaVu Sans'";

const framePlugin = {
  id: "frame",
  afterDraw(chart: any) {
    const { ctx, chartArea: a } = chart;
    ctx.save();
    ctx.strokeStyle = "#000";
    ctx.lineWidth = 1;
    ctx.strokeRect(80.5, 35.5, 905, 907);

    // Title
    ctx.fillStyle = "#000";
    ctx.font = `16.67px ${FONT}`;
    ctx.textAlign = "center";
    ctx.textBaseline = "alphabetic";
    ctx.fillText("Run 516, channel063, Pedestal", (a.left + a.right) / 2 - 0.5, 27);

    // Legend
    const bx = 771.5, by = 42.5, bw = 206.5, bh = 45;
    ctx.beginPath();
    ctx.roundRect(bx, by, bw, bh, 3);
    ctx.fillStyle = "rgba(255,255,255,0.8)";
    ctx.fill();
    ctx.strokeStyle = "rgba(204,204,204,0.8)";
    ctx.stroke();
    ctx.fillStyle = "#000";
    ctx.beginPath();
    ctx.arc(791, 65, 2.9, 0, Math.PI * 2);
    ctx.fill();
    ctx.textAlign = "left";
    ctx.font = `13.89px ${FONT}`;
    ctx.fillText("Samples", 816.5, 59);
    const segs: [string, boolean][] = [
      ["μ", true],
      [" = 6519.14, ", false],
      ["σ", true],
      [" = 7.88", false],
    ];
    let tx = 816.5;
    for (const [t, it] of segs) {
      ctx.font = `${it ? "italic " : ""}13.89px ${FONT}`;
      ctx.fillText(t, tx, 76);
      tx += ctx.measureText(t).width;
    }
    ctx.restore();
  },
};

export default function App() {
  const ref = useRef<HTMLCanvasElement>(null);
  useEffect(() => {
    const chart = new Chart(ref.current!, {
      type: "scatter",
      data: {
        datasets: [
          {
            label: "Samples",
            data: points,
            backgroundColor: "#000",
            borderWidth: 0,
            pointRadius: 2.9,
            pointHoverRadius: 2.9,
          },
        ],
      },
      options: {
        animation: false,
        responsive: false,
        devicePixelRatio: 1,
        layout: { padding: { left: 0, right: 15, top: 35, bottom: 0 } },
        plugins: { legend: { display: false }, tooltip: { enabled: false } },
        scales: {
          x: {
            type: "linear",
            min: -480,
            max: 10347,
            afterBuildTicks: (s: any) => {
              s.ticks = xTicks.map((value) => ({ value }));
            },
            afterFit: (s: any) => {
              s.height = 58;
            },
            grid: { color: "#b0b0b0", lineWidth: 1, tickColor: "#000", tickLength: 5 },
            border: { display: false },
            ticks: {
              color: "#000",
              font: { family: "DejaVu Sans", size: 13.89 },
              padding: 3,
              maxRotation: 0,
              autoSkip: false,
              callback: (v: any) => String(v),
            },
            title: {
              display: true,
              text: "Sample #",
              color: "#000",
              font: { family: "DejaVu Sans", size: 13.89 },
              padding: { top: 0, bottom: 15 },
            },
          },
          y: {
            type: "linear",
            min: 6487.2,
            max: 6549.9,
            afterBuildTicks: (s: any) => {
              s.ticks = yTicks.map((value) => ({ value }));
            },
            afterFit: (s: any) => {
              s.width = 81;
            },
            grid: { color: "#b0b0b0", lineWidth: 1, tickColor: "#000", tickLength: 5 },
            border: { display: false },
            ticks: {
              color: "#000",
              font: { family: "DejaVu Sans", size: 13.89 },
              padding: 6,
              autoSkip: false,
              callback: (v: any) => String(v),
            },
            title: {
              display: true,
              text: "ADC Counts",
              color: "#000",
              font: { family: "DejaVu Sans", size: 13.89 },
              padding: { top: 13, bottom: 0 },
            },
          },
        },
      },
      plugins: [framePlugin],
    } as any);
    return () => chart.destroy();
  }, []);
  return (
    <canvas
      ref={ref}
      width={1000}
      height={1000}
      style={{ position: "absolute", left: 0, top: 0, display: "block" }}
    />
  );
}
